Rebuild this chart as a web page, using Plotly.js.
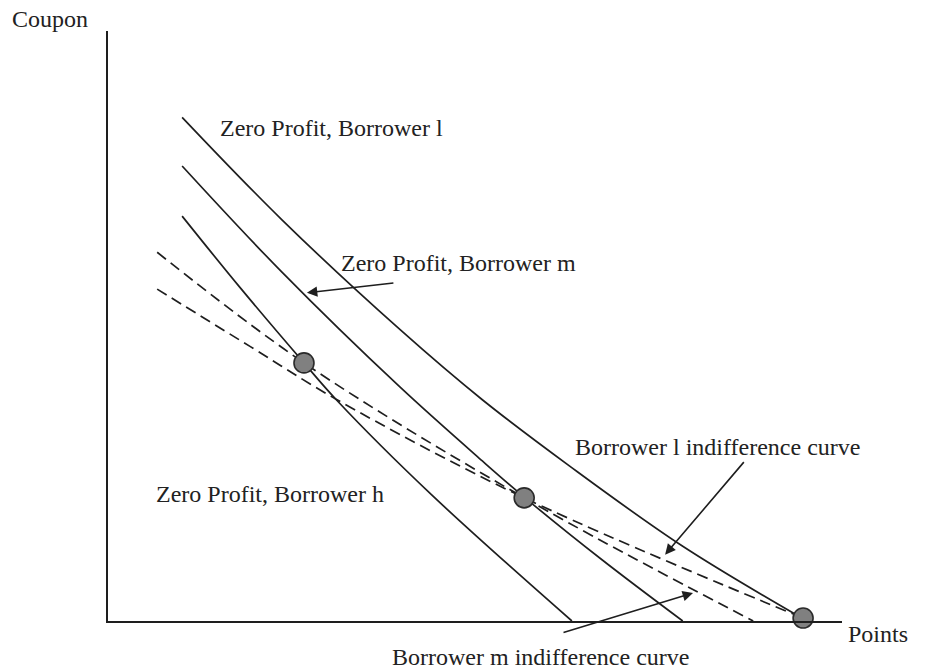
<!DOCTYPE html>
<html>
<head>
<meta charset="utf-8">
<script src="https://cdn.plot.ly/plotly-3.0.1.min.js"></script>
<style>html,body{margin:0;padding:0;background:#fff}#chart{width:929px;height:669px}</style>
</head>
<body>
<div id="chart"></div>
<script>
// Zero-profit curves (points, coupon)
var zpH_x = [1.01, 1.80, 2.67, 3.12, 4.41, 6.32];
var zpH_y = [5.49, 4.52, 3.50, 2.99, 1.71, 0];
var zpM_x = [1.01, 2.37, 3.98, 5.10, 5.67, 6.73, 7.83];
var zpM_y = [6.17, 4.73, 3.17, 2.17, 1.68, 0.83, 0];
var zpL_x = [1.01, 2.37, 3.98, 5.10, 6.29, 7.82, 9.47];
var zpL_y = [6.83, 5.44, 3.95, 3.00, 2.10, 1.02, 0.03];
// Indifference curves
var indM_x = [0.67, 2.67, 5.67, 8.79];
var indM_y = [5.00, 3.50, 1.67, 0];
var indL_x = [0.67, 1.94, 3.12, 5.67, 9.47];
var indL_y = [4.50, 3.72, 3.00, 1.67, 0.04];
// Contracts
var contract_x = [2.67, 5.67, 9.47];
var contract_y = [3.50, 1.67, 0.04];
// Labels
var labelTexts = ['Zero Profit, Borrower l', 'Zero Profit, Borrower m', 'Zero Profit, Borrower h',
                  'Borrower l indifference curve', 'Borrower m indifference curve'];
var xTitle = 'Points', yTitle = 'Coupon';

var ink = '#1e1e1e';
var solid = {color: ink, width: 1.7, shape: 'spline', smoothing: 1.0};
var dashed = {color: ink, width: 1.7, dash: '11px,6px', shape: 'spline', smoothing: 1.0};

var traces = [
  {x: zpH_x, y: zpH_y, mode: 'lines', line: solid},
  {x: zpM_x, y: zpM_y, mode: 'lines', line: solid},
  {x: zpL_x, y: zpL_y, mode: 'lines', line: solid},
  {x: indM_x, y: indM_y, mode: 'lines', line: dashed},
  {x: indL_x, y: indL_y, mode: 'lines', line: dashed},
  {x: contract_x, y: contract_y, mode: 'markers', cliponaxis: false,
   marker: {size: 20, color: '#808080', line: {color: '#2a2a2a', width: 1.6}}}
];

var f = {family: '"Liberation Serif", "Times New Roman", serif', size: 24, color: '#222'};
function lab(t, x, y, ref) { return {text: t, x: x, y: y, xref: ref || 'x', yref: ref ? 'paper' : 'y', showarrow: false, font: f, xanchor: 'center', yanchor: 'middle'}; }
function arr(x, y, ax, ay) { return {text: '', x: x, y: y, xref: 'x', yref: 'y', ax: ax, ay: ay, showarrow: true,
  arrowhead: 2, arrowsize: 1.3, arrowwidth: 1.6, arrowcolor: ink, standoff: 0, startstandoff: 0}; }

var layout = {
  width: 929, height: 669,
  margin: {l: 108, r: 87, t: 31, b: 48},
  paper_bgcolor: '#fff', plot_bgcolor: '#fff',
  showlegend: false,
  xaxis: {range: [0, 10], showgrid: false, zeroline: false, showticklabels: false, ticks: '',
          showline: true, linecolor: ink, linewidth: 2},
  yaxis: {range: [0, 8], showgrid: false, zeroline: false, showticklabels: false, ticks: '',
          showline: true, linecolor: ink, linewidth: 2},
  annotations: [
    lab(labelTexts[0], 3.04, 6.69),
    lab(labelTexts[1], 4.77, 4.85),
    lab(labelTexts[2], 2.21, 1.72),
    lab(labelTexts[3], 8.31, 2.36),
    lab(labelTexts[4], 0.5886, -0.061, 'paper'),
    lab(yTitle, -0.079, 1.020, 'paper'),
    lab(xTitle, 1.049, -0.022, 'paper'),
    arr(2.71, 4.45, 88, -10),
    arr(7.59, 0.90, 80, -94),
    arr(7.97, 0.38, -131, 40)
  ]
};
Plotly.newPlot('chart', traces, layout, {staticPlot: true, displayModeBar: false});
</script>
</body>
</html>
